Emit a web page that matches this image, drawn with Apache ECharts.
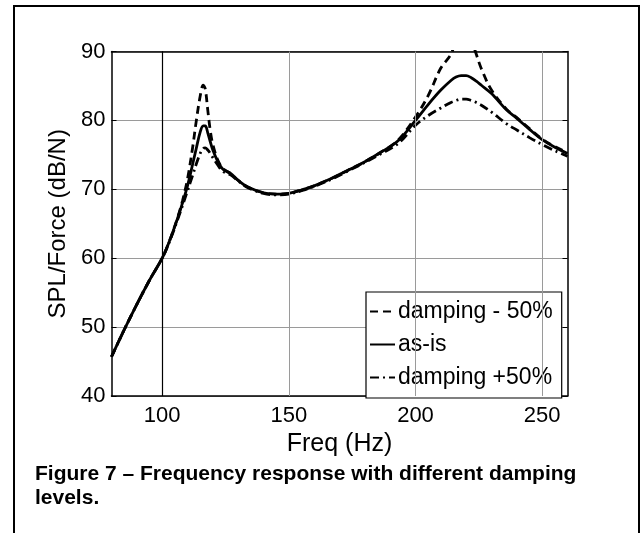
<!DOCTYPE html>
<html>
<head>
<meta charset="utf-8">
<script src="https://cdn.jsdelivr.net/npm/echarts@6/dist/echarts.min.js"></script>
<style>
html,body{margin:0;padding:0;background:#fff;}
#chart{width:644px;height:533px;}
</style>
</head>
<body>
<div id="chart"></div>
<script>
// Frequency (Hz)
const freq = [80, 85, 90, 95, 100, 103, 106, 108, 110, 112, 113.5, 115, 116.2, 117, 118, 119, 120, 122, 124, 127, 130, 134, 140, 145, 150, 155, 160, 167, 173, 180, 186, 193, 200, 205, 210, 214, 216, 218, 220, 222, 224, 226, 230, 236, 240, 245, 250, 255, 260];
// SPL/Force (dB/N)
const dampMinus50 = [45.7, 49.6, 53.3, 56.8, 60.0, 62.6, 65.8, 68.3, 71.5, 76.0, 80.0, 83.5, 85.1, 84.6, 81.5, 78.5, 76.5, 74.2, 73.0, 72.3, 71.3, 70.3, 69.5, 69.3, 69.4, 69.9, 70.5, 71.6, 72.7, 74.0, 75.3, 77.1, 80.5, 83.6, 87.6, 89.6, 91.8, 93.2, 93.3, 91.8, 89.6, 87.5, 84.4, 81.6, 80.4, 78.8, 77.3, 76.2, 75.3];
const asIs = [45.7, 49.6, 53.3, 56.8, 60.0, 62.6, 65.7, 68.0, 70.5, 73.6, 76.0, 78.3, 79.2, 79.2, 78.2, 76.9, 75.7, 74.0, 72.9, 72.3, 71.3, 70.3, 69.5, 69.3, 69.4, 69.9, 70.5, 71.6, 72.7, 74.0, 75.3, 77.0, 80.0, 82.3, 84.4, 85.8, 86.3, 86.5, 86.5, 86.2, 85.7, 85.1, 83.9, 81.5, 80.3, 78.7, 77.2, 76.1, 75.2];
const dampPlus50 = [45.7, 49.6, 53.3, 56.8, 60.0, 62.5, 65.5, 67.6, 69.8, 72.0, 73.7, 75.2, 75.9, 76.0, 75.7, 75.2, 74.6, 73.5, 72.6, 72.1, 71.2, 70.2, 69.4, 69.2, 69.3, 69.8, 70.4, 71.5, 72.6, 73.9, 75.1, 76.6, 79.3, 80.7, 81.8, 82.6, 82.9, 83.1, 83.1, 82.9, 82.6, 82.2, 81.2, 79.5, 78.6, 77.5, 76.5, 75.6, 74.8];
const seriesNames = ['damping - 50%', 'as-is', 'damping +50%'];
const xTicks = [100, 150, 200, 250];
const xGridGrey = [150, 200, 250];
const xRefLine = [100];
const yTicks = [40, 50, 60, 70, 80, 90];
const captionLines = ['Figure 7 \u2013 Frequency response with different damping', 'levels.'];

const pairs = (ys) => freq.map((f, i) => [f, ys[i]]);
const FONT = '"Liberation Sans", Arial, sans-serif';

const chart = echarts.init(document.getElementById('chart'), null, {renderer: 'canvas'});

const gridL = 111.5, gridT = 51.5, gridW = 456, gridH = 344.5;

const xBase = {
  type: 'value', min: 80, max: 260, gridIndex: 0,
  axisLine: {show: true, onZero: false, lineStyle: {color: '#000', width: 1.5}},
  axisTick: {show: true, inside: true, length: 5, customValues: xTicks, lineStyle: {color: '#000', width: 1}},
  splitLine: {show: false}
};

const option = {
  animation: false,
  backgroundColor: '#fff',
  grid: {left: gridL, top: gridT, width: gridW, height: gridH, containLabel: false, show: false},
  xAxis: [
    Object.assign({}, xBase, {
      position: 'bottom',
      axisLabel: {show: true, customValues: xTicks, color: '#000', fontSize: 22, fontFamily: FONT, margin: 9},
      name: 'Freq (Hz)', nameLocation: 'middle', nameGap: 27,
      nameTextStyle: {color: '#000', fontSize: 25, fontFamily: FONT}
    }),
    Object.assign({}, xBase, {position: 'top', axisLabel: {show: false}})
  ],
  yAxis: [
    {
      type: 'value', min: 40, max: 90, interval: 10, position: 'left',
      axisLine: {show: true, onZero: false, lineStyle: {color: '#000', width: 1.5}},
      axisTick: {show: true, inside: true, length: 5, lineStyle: {color: '#000', width: 1}},
      axisLabel: {color: '#000', fontSize: 22, fontFamily: FONT, margin: 6, customValues: yTicks},
      splitLine: {show: true, lineStyle: {color: '#9a9a9a', width: 1}},
      name: 'SPL/Force (dB/N)', nameLocation: 'middle', nameGap: 40,
      nameTextStyle: {color: '#000', fontSize: 24, fontFamily: FONT}
    },
    {
      type: 'value', min: 40, max: 90, interval: 10, position: 'right',
      axisLine: {show: true, onZero: false, lineStyle: {color: '#000', width: 1.5}},
      axisTick: {show: true, inside: true, length: 5, lineStyle: {color: '#000', width: 1}},
      axisLabel: {show: false},
      splitLine: {show: false}
    }
  ],
  legend: {
    show: true,
    data: seriesNames,
    orient: 'vertical',
    left: 366, top: 292,
    padding: [8, 9, 9, 3],
    itemGap: 10,
    itemWidth: 25, itemHeight: 20,
    backgroundColor: '#fff',
    borderColor: '#000', borderWidth: 1.2, borderRadius: 0,
    itemStyle: {opacity: 0, color: 'rgba(0,0,0,0)', borderWidth: 0},
    textStyle: {color: '#000', fontSize: 23, fontFamily: FONT, padding: [0, 0, 0, -2]},
    selectedMode: false
  },
  series: [
    {
      name: '__grid', type: 'line', data: [], silent: true, z: 1,
      markLine: {
        silent: true, symbol: 'none', label: {show: false}, animation: false,
        data: xGridGrey.map(v => ({xAxis: v, lineStyle: {color: '#9a9a9a', width: 1, type: 'solid'}}))
          .concat(xRefLine.map(v => ({xAxis: v, lineStyle: {color: '#000', width: 1.2, type: 'solid'}})))
      }
    },
    {
      name: seriesNames[0], type: 'line', data: pairs(dampMinus50), showSymbol: false, symbol: 'none', smooth: 0.35, z: 3,
      lineStyle: {color: '#000', width: 2.8, type: [8, 5]}, itemStyle: {color: '#000'}
    },
    {
      name: seriesNames[1], type: 'line', data: pairs(asIs), showSymbol: false, symbol: 'none', smooth: 0.35, z: 4,
      lineStyle: {color: '#000', width: 2.8, type: 'solid'}, itemStyle: {color: '#000'}
    },
    {
      name: seriesNames[2], type: 'line', data: pairs(dampPlus50), showSymbol: false, symbol: 'none', smooth: 0.35, z: 3,
      lineStyle: {color: '#000', width: 2.8, type: [9, 4, 2, 4]}, itemStyle: {color: '#000'}
    }
  ],
  graphic: [
    {
      type: 'polyline', silent: true, z: 10,
      shape: {points: [[14, 533], [14, 6], [639, 6], [639, 533]]},
      style: {stroke: '#000', lineWidth: 2, fill: null}
    },
    {
      type: 'text', left: 35, top: 464, silent: true,
      style: {text: captionLines[0], font: 'bold 21px ' + FONT, fill: '#000'}
    },
    {
      type: 'text', left: 35, top: 488, silent: true,
      style: {text: captionLines[1], font: 'bold 21px ' + FONT, fill: '#000'}
    }
  ]
};
chart.setOption(option);
</script>
</body>
</html>
